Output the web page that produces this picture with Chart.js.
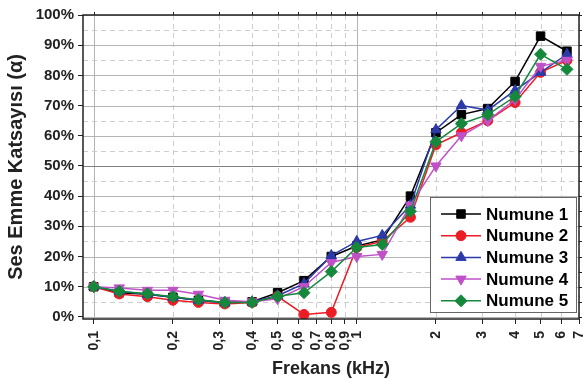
<!DOCTYPE html>
<html>
<head>
<meta charset="utf-8">
<script src="https://cdn.jsdelivr.net/npm/chart.js@4.4.1/dist/chart.umd.min.js"></script>
<style>
  html, body { margin: 0; padding: 0; background: #fff; }
</style>
</head>
<body>
<canvas id="absorptionChart" width="586" height="381"></canvas>
<script>
// third-octave band centres (kHz)
const freqs = [0.1, 0.125, 0.16, 0.2, 0.25, 0.315, 0.4, 0.5, 0.63, 0.8, 1, 1.25, 1.6, 2, 2.5, 3.15, 4, 5, 6.3];

// absorption coefficient per sample (%)
const numune1 = [10, 8, 7.5, 6.5, 5.5, 4.8, 5, 8, 12, 20, 23.5, 25.5, 40, 61, 67, 69, 78, 93, 88];
const numune2 = [10, 7.6, 6.7, 5.5, 4.8, 4.3, 4.8, 6.8, 0.8, 1.5, 23, 25, 33, 57, 61, 65, 71, 81, 85];
const numune3 = [10, 8.5, 7.5, 6.5, 5.5, 4.7, 5, 7, 11, 20.3, 25, 27, 37, 62, 70, 68.5, 75, 81, 87];
const numune4 = [10, 9.6, 8.8, 8.8, 7.5, 5.5, 5, 6, 10, 18, 20, 20.7, 37, 50, 60, 65, 72, 83, 85];
const numune5 = [10, 8.5, 7.7, 6.7, 5.7, 4.8, 4.8, 6.8, 8, 15, 23, 24, 35, 58, 64, 67, 73, 87, 82];

const seriesNames = ['Numune 1', 'Numune 2', 'Numune 3', 'Numune 4', 'Numune 5'];
const seriesValues = [numune1, numune2, numune3, numune4, numune5];

const xTicks = [0.1, 0.2, 0.3, 0.4, 0.5, 0.6, 0.7, 0.8, 0.9, 1, 2, 3, 4, 5, 6, 7];
const yTicks = [0, 5, 10, 15, 20, 25, 30, 35, 40, 45, 50, 55, 60, 65, 70, 75, 80, 85, 90, 95, 100];

const colors = ['#000000', '#ec1c24', '#2b3aa8', '#c050c8', '#16883c'];
const markers = [
    { pointStyle: 'rect', radius: 6, rotation: 0 },
    { pointStyle: 'circle', radius: 5, rotation: 0 },
    { pointStyle: 'triangle', radius: 6, rotation: 0 },
    { pointStyle: 'triangle', radius: 6, rotation: 180 },
    { pointStyle: 'rectRot', radius: 6, rotation: 0 }
];

const FONT = "'Liberation Sans', Arial, sans-serif";

const datasets = seriesNames.map((name, i) => ({
    label: name,
    data: freqs.map((f, j) => ({ x: f, y: seriesValues[i][j] })),
    borderColor: colors[i],
    backgroundColor: colors[i],
    borderWidth: 1.5,
    pointStyle: markers[i].pointStyle,
    pointRadius: markers[i].radius,
    pointRotation: markers[i].rotation,
    pointBorderWidth: 1,
    tension: 0,
    order: seriesNames.length - i
}));

// solid grid at decades / every 10 %, dashed in between
const gridLines = {
    id: 'gridLines',
    beforeDatasetsDraw(chart) {
        const { ctx, chartArea: a, scales } = chart;
        ctx.save();
        ctx.lineWidth = 1;
        xTicks.forEach(v => {
            const px = Math.round(scales.x.getPixelForValue(v)) + 0.5;
            const major = v === 0.1 || v === 1;
            ctx.strokeStyle = major ? '#b4b4b4' : '#cdcdcd';
            ctx.setLineDash(major ? [] : [5, 4]);
            ctx.beginPath();
            ctx.moveTo(px, a.top);
            ctx.lineTo(px, a.bottom);
            ctx.stroke();
        });
        yTicks.forEach(v => {
            const py = Math.round(scales.y.getPixelForValue(v)) + 0.5;
            const major = v % 10 === 0;
            ctx.strokeStyle = v === 50 ? '#808080' : (major ? '#b4b4b4' : '#cdcdcd');
            ctx.setLineDash(major ? [] : [5, 4]);
            ctx.beginPath();
            ctx.moveTo(a.left, py);
            ctx.lineTo(a.right, py);
            ctx.stroke();
        });
        ctx.restore();
    }
};

// black frame round the plot, with small outside ticks on top and right
const frame = {
    id: 'frame',
    afterDatasetsDraw(chart) {
        const { ctx, chartArea: a, scales } = chart;
        ctx.save();
        ctx.strokeStyle = '#222';
        ctx.lineWidth = 1;
        ctx.beginPath();
        xTicks.forEach(v => {
            const px = Math.round(scales.x.getPixelForValue(v)) + 0.5;
            ctx.moveTo(px, a.top);
            ctx.lineTo(px, a.top - 3);
        });
        yTicks.forEach(v => {
            const py = Math.round(scales.y.getPixelForValue(v)) + 0.5;
            ctx.moveTo(a.right, py);
            ctx.lineTo(a.right + 3, py);
        });
        ctx.stroke();
        ctx.lineWidth = 1.5;
        ctx.strokeRect(a.left, a.top, a.right - a.left, a.bottom - a.top);
        ctx.restore();
    }
};

// legend box in the lower right corner of the plot
const legendBox = {
    id: 'legendBox',
    afterDatasetsDraw(chart) {
        const { ctx, chartArea: a } = chart;
        const w = 146, h = 115;
        const left = a.right - w - 3;
        const top = a.bottom - h - 7;
        ctx.save();
        ctx.fillStyle = '#fff';
        ctx.fillRect(left, top, w, h);
        ctx.strokeStyle = '#666';
        ctx.lineWidth = 1;
        ctx.strokeRect(left + 0.5, top + 0.5, w, h);
        ctx.font = 'bold 17px ' + FONT;
        ctx.textBaseline = 'middle';
        chart.data.datasets.forEach((ds, i) => {
            const y = top + 17 + i * 21.7;
            ctx.strokeStyle = ds.borderColor;
            ctx.fillStyle = ds.backgroundColor;
            ctx.lineWidth = 1.5;
            ctx.beginPath();
            ctx.moveTo(left + 11, y);
            ctx.lineTo(left + 51, y);
            ctx.stroke();
            ctx.lineWidth = 1;
            Chart.helpers.drawPoint(ctx, {
                pointStyle: ds.pointStyle,
                radius: ds.pointRadius,
                rotation: ds.pointRotation,
                borderWidth: 1
            }, left + 31, y);
            ctx.fillStyle = '#000';
            ctx.fillText(ds.label, left + 56, y + 1);
        });
        ctx.restore();
    }
};

const chartCtx = document.getElementById('absorptionChart').getContext('2d');
new Chart(chartCtx, {
    type: 'line',
    data: { datasets: datasets },
    plugins: [gridLines, frame, legendBox],
    options: {
        responsive: false,
        animation: false,
        devicePixelRatio: 1,
        layout: { padding: { top: 15, right: 6, left: 0, bottom: 0 } },
        plugins: {
            legend: { display: false },
            tooltip: { enabled: false }
        },
        scales: {
            x: {
                type: 'logarithmic',
                min: 0.091,
                max: 7,
                afterBuildTicks: scale => {
                    scale.ticks = xTicks.map(v => ({ value: v }));
                },
                afterFit: scale => {
                    scale.height = 62;
                    scale.paddingLeft = 0;
                    scale.paddingRight = 0;
                },
                ticks: {
                    autoSkip: false,
                    minRotation: 90,
                    maxRotation: 90,
                    padding: 7,
                    color: '#222',
                    font: { family: FONT, size: 14, weight: 'bold' },
                    callback: value => String(value).replace('.', ',')
                },
                grid: {
                    drawOnChartArea: false,
                    tickLength: 5,
                    tickColor: '#222'
                },
                border: { display: false },
                title: {
                    display: true,
                    text: 'Frekans (kHz)',
                    color: '#222',
                    font: { family: FONT, size: 18, weight: 'bold' },
                    padding: { top: 0, bottom: 1 }
                }
            },
            y: {
                min: -0.7,
                max: 100,
                afterBuildTicks: scale => {
                    scale.ticks = yTicks.map(v => ({ value: v }));
                },
                afterFit: scale => { scale.width = 83; },
                ticks: {
                    padding: 4,
                    color: '#222',
                    font: { family: FONT, size: 15, weight: 'bold' },
                    callback: value => value % 10 === 0 ? value + '%' : ''
                },
                grid: {
                    drawOnChartArea: false,
                    tickLength: 5,
                    tickColor: '#222'
                },
                border: { display: false },
                title: {
                    display: true,
                    text: 'Ses Emme Katsayısı (α)',
                    color: '#222',
                    font: { family: FONT, size: 20, weight: 'bold' },
                    padding: { top: 4, bottom: 0 }
                }
            }
        }
    }
});
</script>
</body>
</html>
